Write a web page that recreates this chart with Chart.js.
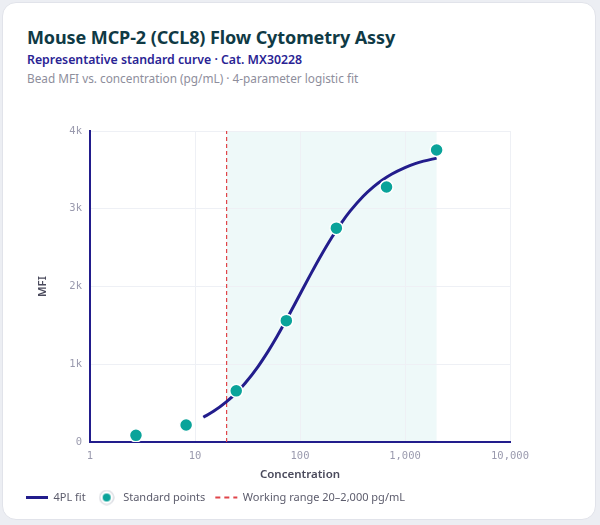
<!DOCTYPE html>
<html>
<head>
<meta charset="utf-8">
<script src="https://cdn.jsdelivr.net/npm/chart.js@4.4.1/dist/chart.umd.min.js"></script>
<style>
  html, body { margin: 0; padding: 0; background: #eceef3; }
  .card {
    position: absolute; left: 2px; top: 2px; width: 594px; height: 518px;
    background: #fff; border: 1px solid #e1e3ea; border-radius: 14px; box-sizing: border-box;
  }
  .head { position: absolute; left: 27px; font-family: "Noto Sans", sans-serif; white-space: nowrap; }
  #t1 { top: 25px; font-size: 18px; font-weight: 700; color: #0f3a45; letter-spacing: -0.1px; }
  #t2 { top: 51px; font-size: 12.3px; font-weight: 600; color: #2a2494; }
  #t3 { top: 70px; font-size: 11.8px; color: #8e8e9c; }
  #wrap { position: absolute; left: 0; top: 0; width: 600px; height: 525px; }
</style>
</head>
<body>
<div class="card"></div>
<div class="head" id="t1">Mouse MCP-2 (CCL8) Flow Cytometry Assy</div>
<div class="head" id="t2">Representative standard curve · Cat. MX30228</div>
<div class="head" id="t3">Bead MFI vs. concentration (pg/mL) · 4-parameter logistic fit</div>
<div id="wrap"><canvas id="chart" width="600" height="525"></canvas></div>
<script>
// standard points (3-fold dilution series)
const stdConc = [2.74, 8.23, 24.7, 74.1, 222, 667, 2000];
const stdMfi = [86, 219, 658, 1561, 2750, 3280, 3755];

// fitted 4PL curve
const fitConc = [12, 15, 20, 25, 30, 40, 50, 60, 75, 100, 125, 150, 200, 250, 300, 400, 500, 600, 750, 1000, 1250, 1500, 2000];
const fitMfi = [319, 394, 519, 639, 756, 974, 1172, 1350, 1584, 1900, 2146, 2342, 2628, 2826, 2969, 3161, 3282, 3364, 3447, 3530, 3580, 3612, 3651];

// working range, pg/mL
const rangeLow = 20;
const rangeHigh = 2000;

const xTicks = [1, 10, 100, 1000, 10000];
const yTicks = [0, 1000, 2000, 3000, 4000];

const NAVY = '#221d8c';
const TEAL = '#0aa39a';
const RED = '#e0454a';
const MONO = '"DejaVu Sans Mono", monospace';
const SANS = '"Noto Sans", sans-serif';

// legend marker for the points: teal dot inside a grey ring
const dotIcon = document.createElement('canvas');
dotIcon.width = 16;
dotIcon.height = 16;
(() => {
    const c = dotIcon.getContext('2d');
    c.beginPath();
    c.arc(8, 8, 7, 0, Math.PI * 2);
    c.fillStyle = '#fff';
    c.fill();
    c.strokeStyle = '#d3d5dc';
    c.lineWidth = 1.2;
    c.stroke();
    c.beginPath();
    c.arc(8, 8, 4, 0, Math.PI * 2);
    c.fillStyle = TEAL;
    c.fill();
})();

// shaded working range behind the grid
const bandPlugin = {
    id: 'band',
    beforeDraw(chart) {
        const { ctx, chartArea, scales } = chart;
        const x0 = scales.x.getPixelForValue(rangeLow);
        const x1 = scales.x.getPixelForValue(rangeHigh);
        ctx.save();
        ctx.fillStyle = 'rgba(0, 160, 170, 0.065)';
        ctx.fillRect(x0, chartArea.top, x1 - x0, chartArea.bottom - chartArea.top);
        ctx.restore();
    }
};

new Chart(document.getElementById('chart'), {
    type: 'line',
    data: {
        datasets: [
            {
                label: '4PL fit',
                data: fitConc.map((c, i) => ({ x: c, y: fitMfi[i] })),
                borderColor: NAVY,
                backgroundColor: NAVY,
                borderWidth: 3,
                pointRadius: 0,
                pointStyle: 'line',
                cubicInterpolationMode: 'monotone',
                order: 2
            },
            {
                type: 'scatter',
                label: 'Standard points',
                data: stdConc.map((c, i) => ({ x: c, y: stdMfi[i] })),
                backgroundColor: TEAL,
                borderColor: '#ffffff',
                borderWidth: 1.5,
                pointRadius: 6.5,
                pointStyle: 'circle',
                order: 0
            },
            {
                label: 'Working range 20–2,000 pg/mL',
                data: [{ x: rangeLow, y: yTicks[0] }, { x: rangeLow, y: yTicks[yTicks.length - 1] }],
                borderColor: RED,
                backgroundColor: RED,
                borderWidth: 1.2,
                borderDash: [4, 3],
                pointRadius: 0,
                pointStyle: 'line',
                order: 3
            }
        ]
    },
    options: {
        responsive: false,
        animation: false,
        layout: { padding: { left: 16, right: 90, top: 131, bottom: 12 } },
        scales: {
            x: {
                type: 'logarithmic',
                min: 1,
                max: 10000,
                afterBuildTicks: (scale) => { scale.ticks = xTicks.map(v => ({ value: v })); },
                afterFit: (scale) => { scale.height = 40; },
                border: { color: NAVY, width: 2 },
                grid: { color: '#eef0f5', drawTicks: false },
                ticks: {
                    padding: 8,
                    color: '#9a9aae',
                    font: { family: MONO, size: 10.5 },
                    maxRotation: 0,
                    callback: (v) => Number(v).toLocaleString('en-US')
                },
                title: {
                    display: true, text: 'Concentration', color: '#4a4a5c',
                    font: { family: SANS, size: 11.5, weight: '600' },
                    padding: { top: 3, bottom: 0 }
                }
            },
            y: {
                min: 0,
                max: 4000,
                afterBuildTicks: (scale) => { scale.ticks = yTicks.map(v => ({ value: v })); },
                afterFit: (scale) => { scale.width = 74; },
                border: { color: NAVY, width: 2 },
                grid: { color: '#eef0f5', drawTicks: false },
                ticks: {
                    padding: 8,
                    color: '#9a9aae',
                    font: { family: MONO, size: 10.5 },
                    callback: (v) => v === 0 ? '0' : (v / 1000) + 'k'
                },
                title: {
                    display: true, text: 'MFI', color: '#4a4a5c',
                    font: { family: SANS, size: 11.5, weight: '600' },
                    padding: { top: 20, bottom: 4 }
                }
            }
        },
        plugins: {
            legend: {
                position: 'bottom',
                align: 'start',
                labels: {
                    usePointStyle: true,
                    pointStyleWidth: 22,
                    boxHeight: 8,
                    padding: 10,
                    color: '#5c5c6c',
                    font: { family: SANS, size: 11 },
                    sort: (a, b) => a.datasetIndex - b.datasetIndex,
                    generateLabels: (chart) => {
                        const items = Chart.defaults.plugins.legend.labels.generateLabels(chart);
                        items.forEach(it => {
                            if (it.datasetIndex === 0) it.lineWidth = 3;
                            if (it.datasetIndex === 1) it.pointStyle = dotIcon;
                            if (it.datasetIndex === 2) { it.lineWidth = 2; it.lineDash = [5, 4]; }
                        });
                        return items;
                    }
                }
            },
            tooltip: { enabled: false }
        }
    },
    plugins: [bandPlugin]
});
</script>
</body>
</html>
